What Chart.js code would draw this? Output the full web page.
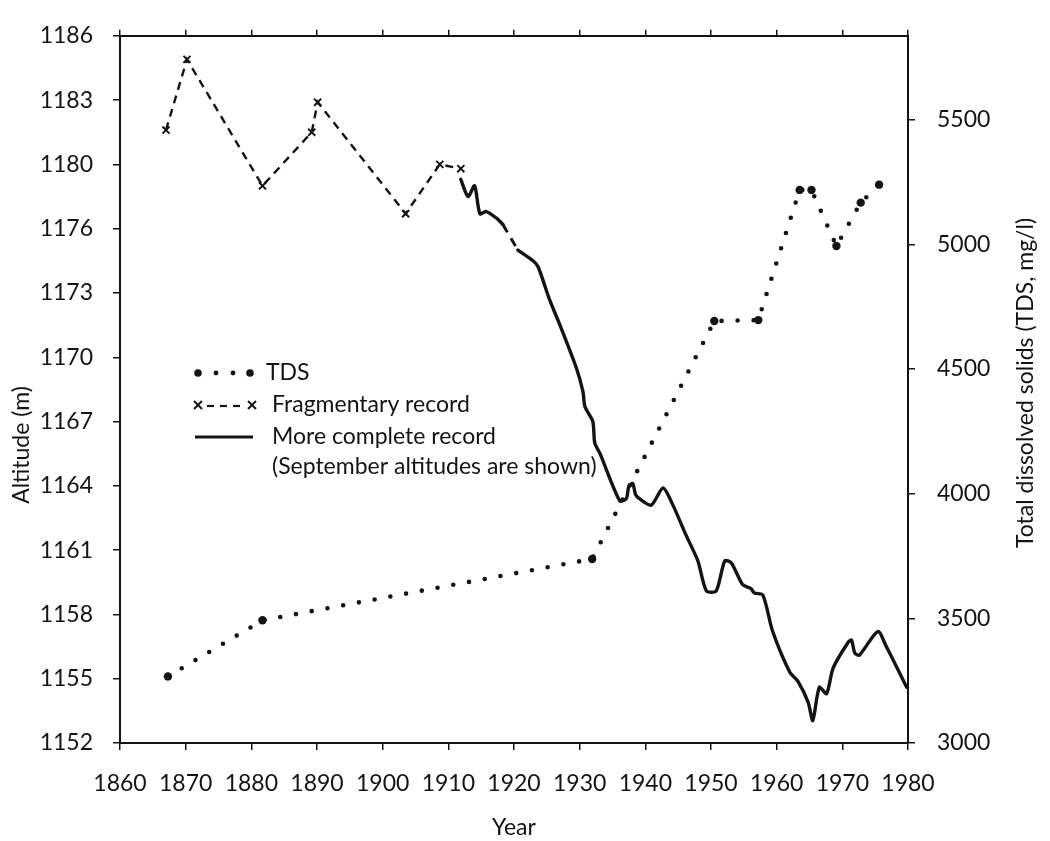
<!DOCTYPE html>
<html>
<head>
<meta charset="utf-8">
<script src="https://cdn.jsdelivr.net/npm/chart.js@4.4.1/dist/chart.umd.min.js"></script>
<style>
html,body{margin:0;padding:0;background:#fff;}
#wrap{width:1050px;height:841px;position:relative;}
</style>
</head>
<body>
<div id="wrap"><canvas id="c" width="1050" height="841"></canvas></div>
<script>
// ---- tick values / labels ----
const yearTickValues = [1860,1870,1880,1890,1900,1910,1920,1930,1940,1950,1960,1970,1980];
const altitudeTickValues = [1152,1155,1158,1161,1164,1167,1170,1173,1176,1179,1182,1185];
const altitudeTickLabels = ['1152','1155','1158','1161','1164','1167','1170','1173','1176','1180','1183','1186'];
const tdsTickValues = [3000,3500,4000,4500,5000,5500];

// ---- TDS (mg/l), measured points ----
const tdsYears  = [1867.3,1881.7,1931.9,1950.5,1957.2,1963.5,1965.3,1969.1,1972.8,1975.6];
const tdsValues = [3267,3492,3738,4692,4696,5218,5218,4993,5167,5239];

// ---- Fragmentary record (altitude, m) ----
const fragYears     = [1867.0,1870.2,1881.7,1889.2,1890.1,1903.5,1908.7,1911.9];
const fragAltitudes = [1180.6,1183.9,1178.0,1180.5,1181.9,1176.7,1179.0,1178.8];

// ---- More complete record (September altitudes, m); null = unrecorded gap ----
const completeYears = [1911.9,1913.0,1914.0,1914.8,1915.8,1917.3,1918.3,1919.5,
  1920.6,1922.9,1923.7,1925.4,1927.0,1929.5,1930.5,1930.8,1932.0,1932.3,1933.1,
  1936.1,1937.1,1937.5,1938.1,1938.5,1939.1,1940.9,1942.7,1944.2,1946.2,1948.0,
  1949.3,1950.8,1952.1,1953.1,1954.8,1956.1,1956.6,1957.9,1959.4,1962.0,1963.2,
  1964.8,1965.5,1966.5,1967.6,1968.6,1970.9,1971.4,1971.9,1972.6,1975.4,1976.7,1979.8];
const completeAltitudes = [1178.3,1177.5,1178.0,1176.7,1176.8,1176.5,1176.2,null,
  1175.0,1174.5,1174.2,1172.7,1171.5,1169.5,1168.4,1167.7,1167.0,1166.0,1165.5,
  1163.3,1163.4,1164.0,1164.1,1163.6,1163.4,1163.1,1163.9,1163.1,1161.7,1160.5,
  1159.1,1159.1,1160.5,1160.4,1159.4,1159.2,1159.0,1158.9,1157.2,1155.3,1154.9,
  1153.9,1153.05,1154.6,1154.3,1155.5,1156.7,1156.8,1156.2,1156.1,1157.2,1156.5,1154.6];

// ---- gap in the more complete record, bridged with a dashed line ----
const gapYears = [1918.3,1920.6];
const gapAltitudes = [1176.2,1175.0];

const toPts = (xs, ys) => xs.map((x, i) => ({x: x, y: ys[i]}));

const FONT = 'Lato, "Open Sans", "DejaVu Sans", sans-serif';
const INK = '#141414';
Chart.defaults.font.family = FONT;
Chart.defaults.color = INK;

const decorPlugin = {
  id: 'decor',
  afterDraw(chart) {
    const ctx = chart.ctx;
    ctx.save();
    ctx.fillStyle = INK;
    ctx.strokeStyle = INK;
    // vertical axis titles (both read bottom-to-top)
    ctx.font = '23px ' + FONT;
    ctx.textAlign = 'center';
    ctx.textBaseline = 'middle';
    ctx.save(); ctx.translate(22, 445); ctx.rotate(-Math.PI/2);
    ctx.fillText('Altitude (m)', 0, 0); ctx.restore();
    ctx.save(); ctx.translate(1026, 383); ctx.rotate(-Math.PI/2);
    ctx.fillText('Total dissolved solids (TDS, mg/l)', 0, 0); ctx.restore();

    // legend inside the plot
    ctx.font = '23px ' + FONT;
    ctx.textAlign = 'left';
    const tx = 272;
    const r1 = 373;
    [[198,3.8],[216,2.4],[233,2.4],[250,3.8]].forEach(([x,r]) => {
      ctx.beginPath(); ctx.arc(x, r1, r, 0, Math.PI*2); ctx.fill();
    });
    ctx.fillText('TDS', 266, r1);
    const r2 = 405;
    ctx.lineWidth = 2;
    [198, 252].forEach(x => {
      ctx.beginPath();
      ctx.moveTo(x-4, r2-4); ctx.lineTo(x+4, r2+4);
      ctx.moveTo(x-4, r2+4); ctx.lineTo(x+4, r2-4);
      ctx.stroke();
    });
    ctx.lineWidth = 2.2;
    [[207,214],[220,227],[233,240]].forEach(([a,b]) => {
      ctx.beginPath(); ctx.moveTo(a, r2+1); ctx.lineTo(b, r2+1); ctx.stroke();
    });
    ctx.fillText('Fragmentary record', tx, r2);
    const r3 = 437;
    ctx.lineWidth = 3;
    ctx.beginPath(); ctx.moveTo(195, r3); ctx.lineTo(253, r3); ctx.stroke();
    ctx.fillText('More complete record', tx, r3);
    ctx.fillText('(September altitudes are shown)', tx, 467);
    ctx.restore();
  }
};

new Chart(document.getElementById('c'), {
  type: 'line',
  data: {
    datasets: [
      { label: 'TDS', yAxisID: 'yR', data: toPts(tdsYears, tdsValues),
        borderColor: INK, backgroundColor: INK, borderWidth: 4.6, borderDash: [0, 16],
        borderCapStyle: 'round', pointRadius: 4.2, pointBorderWidth: 0,
        pointBackgroundColor: INK, tension: 0 },
      { label: 'Fragmentary record', yAxisID: 'y', data: toPts(fragYears, fragAltitudes),
        borderColor: INK, borderWidth: 2.4, borderDash: [8, 6], pointStyle: 'crossRot',
        pointRadius: 5, pointBorderWidth: 2, pointBorderColor: INK, tension: 0 },
      { label: 'More complete record', yAxisID: 'y', data: toPts(completeYears, completeAltitudes),
        borderColor: INK, borderWidth: 3.4, borderJoinStyle: 'round', borderCapStyle: 'round',
        pointRadius: 0, spanGaps: false, tension: 0.25 },
      { label: 'gap', yAxisID: 'y', data: toPts(gapYears, gapAltitudes),
        borderColor: INK, borderWidth: 3, borderDash: [9, 7], pointRadius: 0, tension: 0 }
    ]
  },
  options: {
    responsive: false,
    animation: false,
    devicePixelRatio: 1,
    layout: {padding: 0},
    plugins: {legend: {display: false}, tooltip: {enabled: false}},
    scales: {
      x: {
        type: 'linear', position: 'bottom', min: 1860, max: 1980,
        afterBuildTicks: s => { s.ticks = yearTickValues.map(v => ({value: v})); },
        afterFit: s => { s.height = 98; },
        border: {display: true, color: INK, width: 2},
        grid: {drawOnChartArea: false, drawTicks: true, tickLength: 7, color: INK, lineWidth: 1.5},
        ticks: {padding: 20, font: {size: 23}, color: INK, maxRotation: 0, autoSkip: false,
                callback: v => String(v)},
        title: {display: true, text: 'Year', font: {size: 23}, color: INK, padding: {top: 0, bottom: 0}}
      },
      xTop: {
        type: 'linear', position: 'top', min: 1860, max: 1980,
        afterBuildTicks: s => { s.ticks = yearTickValues.map(v => ({value: v})); },
        afterFit: s => { s.height = 20; },
        border: {display: true, color: INK, width: 2},
        grid: {drawOnChartArea: false, drawTicks: true, tickLength: 6, color: INK, lineWidth: 1.5},
        ticks: {display: false}
      },
      y: {
        type: 'linear', position: 'left', min: 1152, max: 1185,
        afterBuildTicks: s => { s.ticks = altitudeTickValues.map(v => ({value: v})); },
        afterFit: s => { s.width = 120; },
        border: {display: true, color: INK, width: 2},
        grid: {drawOnChartArea: false, drawTicks: true, tickLength: 7, color: INK, lineWidth: 1.5},
        ticks: {padding: 20, font: {size: 23}, color: INK, autoSkip: false,
                callback: (v, i) => altitudeTickLabels[i]}
      },
      yR: {
        type: 'linear', position: 'right', min: 3000, max: 5836,
        afterBuildTicks: s => { s.ticks = tdsTickValues.map(v => ({value: v})); },
        afterFit: s => { s.width = 142; },
        border: {display: true, color: INK, width: 2},
        grid: {drawOnChartArea: false, drawTicks: true, tickLength: 7, color: INK, lineWidth: 1.5},
        ticks: {padding: 22, font: {size: 23}, color: INK, autoSkip: false,
                callback: v => String(v)}
      }
    }
  },
  plugins: [decorPlugin]
});
</script>
</body>
</html>
